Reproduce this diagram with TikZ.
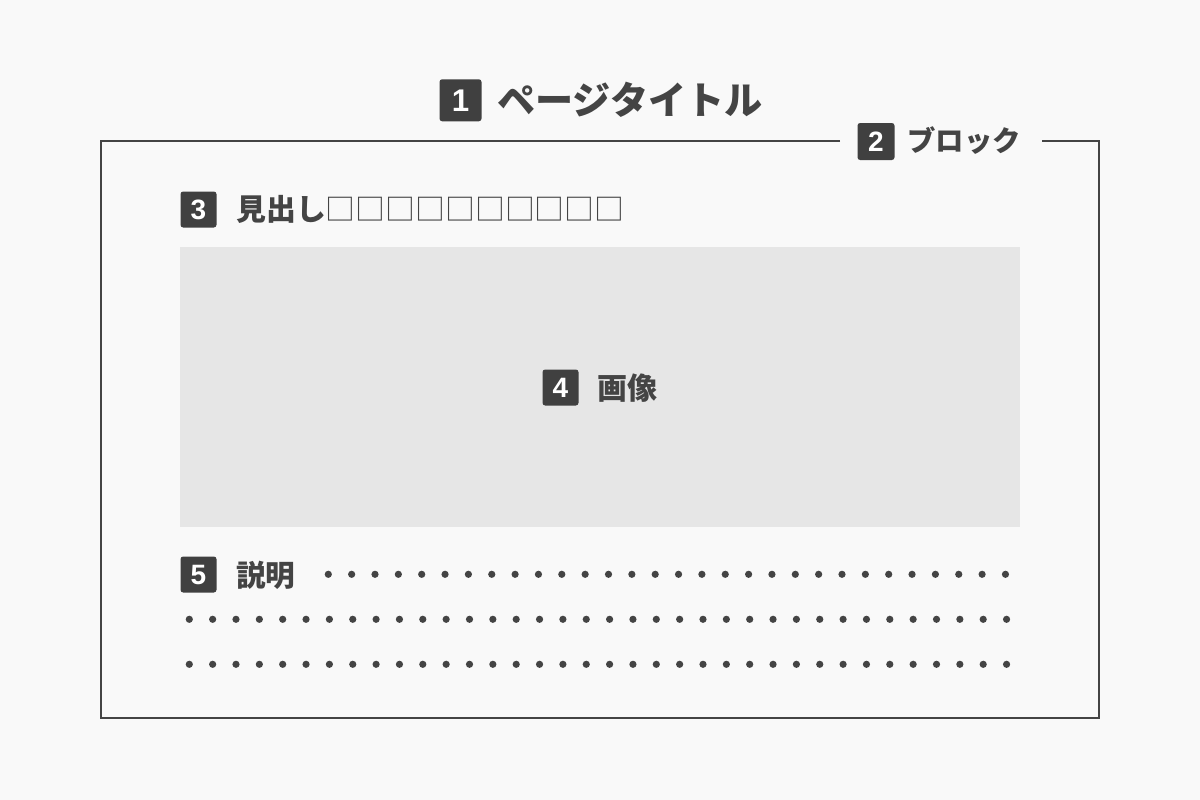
\documentclass[tikz,border=0pt]{standalone}
\usepackage{fontspec}
\newfontfamily\jp{Noto Sans CJK JP}
\newfontfamily\numfont{Liberation Sans}
\definecolor{bg}{HTML}{F9F9F9}
\definecolor{ink}{HTML}{444444}
\definecolor{badgefill}{HTML}{404040}
\definecolor{imgfill}{HTML}{E6E6E6}
\begin{document}
\begin{tikzpicture}[x=0.75pt,y=-0.75pt,
  badge/.style={fill=badgefill, rounded corners=2pt, minimum size=#1*0.75pt, inner sep=0pt, text=white},
  badgenum/.style={font=\numfont\bfseries\fontsize{21pt}{22pt}\selectfont},
  lbl/.style={anchor=west, inner sep=0pt, text=ink},
  frame/.style={draw=ink, line width=1.5pt},
  dot/.style={fill=ink}]
\fill[bg] (0,0) rectangle (1200,800);
\useasboundingbox (0,0) rectangle (1200,800);
% title
\node[badge=42, font=\numfont\bfseries\fontsize{23.5pt}{25pt}\selectfont] (b1) at (460.5,100.3) {1};
\node[lbl, font=\jp\bfseries\fontsize{28.6pt}{31pt}\selectfont] (t1) at (497,100) {ページタイトル};
% block label
\node[badge=37, badgenum] (b2) at (876,141.5) {2};
\node[lbl, font=\jp\bfseries\fontsize{21.3pt}{23pt}\selectfont] (t2) at (907,141) {ブロック};
\coordinate (fl) at (840,141);
\coordinate (fr) at (1042,141);
\coordinate (c1) at (101,141);
\coordinate (c2) at (101,718);
\coordinate (c3) at (1099,718);
\coordinate (c4) at (1099,141);
\draw[frame] (fl) -- (c1) -- (c2) -- (c3) -- (c4) -- (fr);
% heading
\node[badge=36, badgenum] (b3) at (198.5,209.5) {3};
\node[lbl, font=\jp\bfseries\fontsize{22.4pt}{24pt}\selectfont] (t3) at (236,209) {見出し{\mdseries □□□□□□□□□□}};
% image
\fill[imgfill] (180,247) rectangle (1020,527);
\node[badge=36, badgenum] (b4) at (560.5,387.5) {4};
\node[lbl, font=\jp\bfseries\fontsize{22.5pt}{24pt}\selectfont] (t4) at (597,388) {画像};
% description
\node[badge=36, badgenum] (b5) at (198.5,574.5) {5};
\node[lbl, font=\jp\bfseries\fontsize{22.2pt}{24pt}\selectfont] (t5) at (236,575) {説明};
\foreach \i in {0,...,29} \fill[dot] (328.3+23.35*\i,574.3) circle[radius=2.7pt];
\foreach \i in {0,...,35} \fill[dot] (189.3+23.35*\i,619.3) circle[radius=2.7pt];
\foreach \i in {0,...,35} \fill[dot] (189.3+23.35*\i,664.3) circle[radius=2.7pt];
\end{tikzpicture}
\end{document}
